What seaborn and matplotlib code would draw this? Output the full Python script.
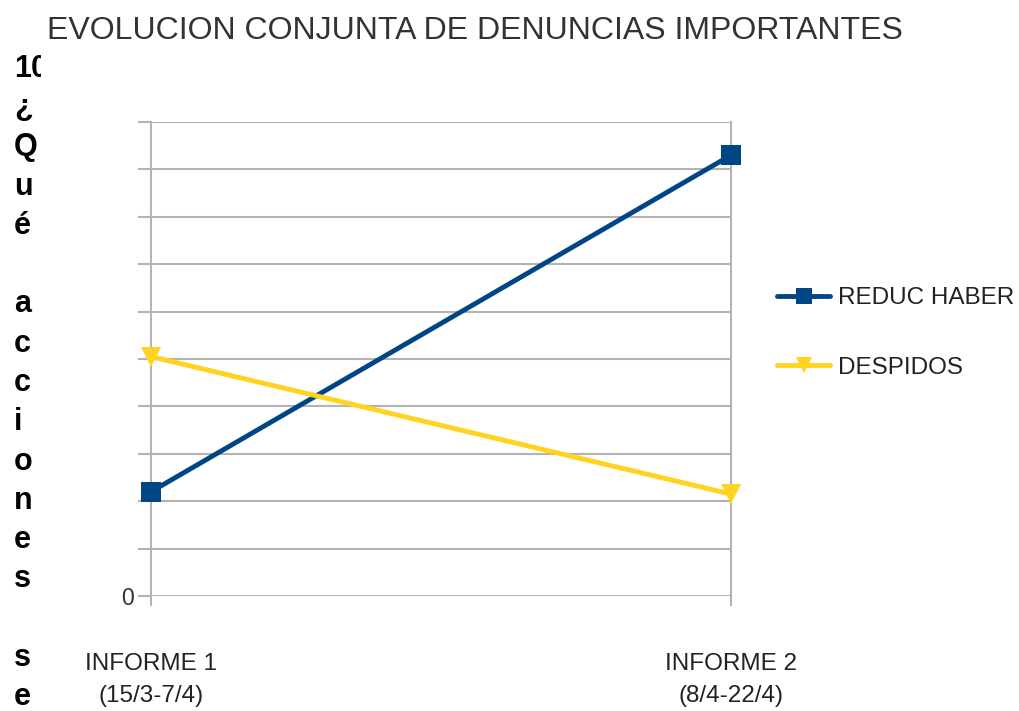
import matplotlib
matplotlib.use("Agg")
import matplotlib.pyplot as plt
import seaborn as sns
import pandas as pd
from matplotlib.transforms import Bbox, TransformedBbox

# ---- data ----
informes = ["INFORME 1\n(15/3-7/4)", "INFORME 2\n(8/4-22/4)"]
reduc_haber = [2.2, 9.3]
despidos = [5.05, 2.15]
series_names = ["REDUC HABER", "DESPIDOS"]
y_ticks = list(range(0, 11))
y_tick_labels = ["0"] + [""] * 10
title = "EVOLUCION CONJUNTA DE DENUNCIAS IMPORTANTES"
side_lines = ["10", "¿", "Q", "u", "é", "", "a", "c", "c", "i", "o", "n", "e", "s", "", "s", "e"]

df = pd.DataFrame({
    "pos": list(range(len(informes))) * 2,
    "valor": reduc_haber + despidos,
    "serie": [series_names[0]] * len(reduc_haber) + [series_names[1]] * len(despidos),
})

sns.set_theme(style="white")
plt.rcParams["font.family"] = ["Liberation Sans", "DejaVu Sans"]

W, H = 1019, 711
fig = plt.figure(figsize=(W / 100, H / 100), dpi=100)
ax = fig.add_axes([151 / W, 1 - 596 / H, (731 - 151) / W, (596 - 122) / H])

palette = {"REDUC HABER": "#004586", "DESPIDOS": "#FFD320"}
markers = {"REDUC HABER": "s", "DESPIDOS": "v"}
sns.lineplot(data=df, x="pos", y="valor", hue="serie", style="serie",
             hue_order=series_names, style_order=series_names,
             palette=palette, markers=markers, dashes=False,
             linewidth=3.5, markersize=14, markeredgewidth=0, ax=ax, legend=False)
for ln in ax.lines:
    ln.set_clip_on(False)
    ln.set_zorder(5)

ax.set_xlim(0, 1)
ax.set_ylim(0, 10)
ax.set_yticks(y_ticks)
ax.set_yticklabels(y_tick_labels, fontsize=16.5, color="#333333")
ax.set_xticks(range(len(informes)))
ax.set_xticklabels(informes, fontsize=17.5, color="#222222", linespacing=1.6)
ax.set_xlabel("")
ax.set_ylabel("")
grid_c = "#b3b3b3"
ax.grid(axis="y", color=grid_c, linewidth=1.5)
ax.grid(axis="x", visible=False)
ax.set_axisbelow(True)
ax.tick_params(axis="y", which="both", left=True, length=9.5, width=1.5, color=grid_c, pad=3, direction="out")
ax.tick_params(axis="x", which="both", bottom=True, length=7.5, width=1.5, color=grid_c, pad=33.5, direction="out")
for s in ["top", "bottom"]:
    ax.spines[s].set_visible(False)
for s in ["left", "right"]:
    ax.spines[s].set_visible(True)
    ax.spines[s].set_color(grid_c)
    ax.spines[s].set_linewidth(1.5)

# legend
from matplotlib.lines import Line2D
handles = [Line2D([0], [0], color=palette[n], marker=markers[n], linewidth=3.5,
                  markersize=12, markeredgewidth=0) for n in series_names]
leg = fig.legend(handles, series_names, loc="center left",
                 bbox_to_anchor=(777 / W, 1 - 333 / H), frameon=False,
                 fontsize=17.5, handlelength=2.2, handletextpad=0.3,
                 labelspacing=1.97, borderpad=0, borderaxespad=0)
for t in leg.get_texts():
    t.set_color("#222222")

# title
fig.text(475 / W, 1 - 39 / H, title, ha="center", va="baseline",
         fontsize=23, color="#333333")

# vertical side text
clip = TransformedBbox(Bbox([[0, 0], [41 / W, 1]]), fig.transFigure)
for k, ch in enumerate(side_lines):
    if not ch:
        continue
    t = fig.text(14 / W, 1 - (77 + 39.25 * k) / H, ch, ha="left", va="baseline",
                 fontsize=22, fontweight="bold", color="#000000")
    t.set_clip_box(clip)
    t.set_clip_on(True)

fig.savefig("out.png", dpi=100)
